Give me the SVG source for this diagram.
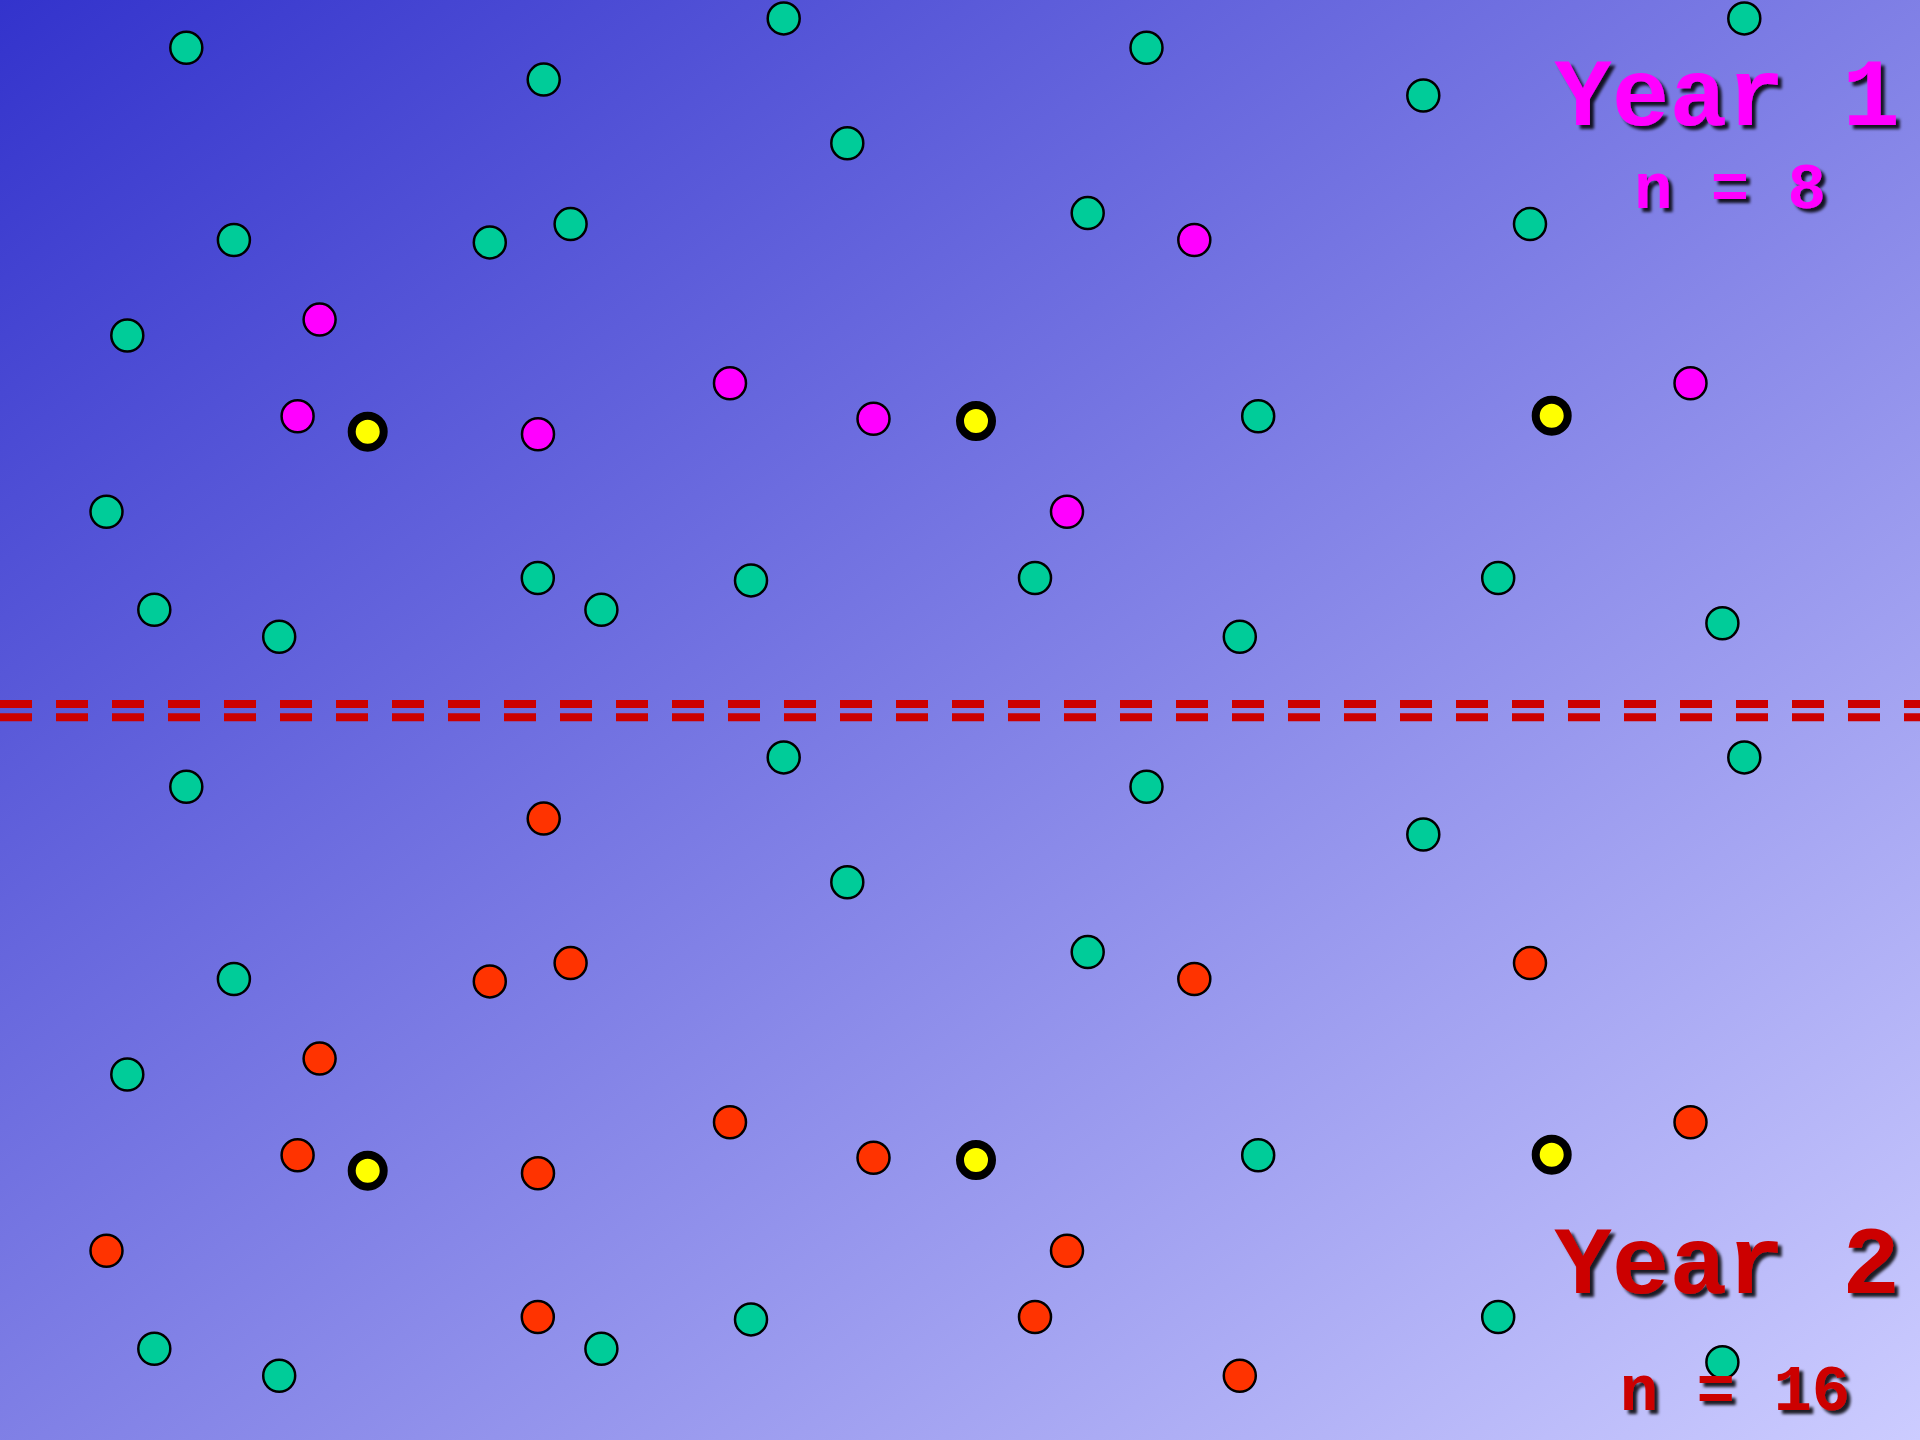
<svg xmlns="http://www.w3.org/2000/svg" width="1920" height="1440" viewBox="0 0 1920 1440">
<defs>
<linearGradient id="bg" x1="0" y1="0" x2="1" y2="1">
<stop offset="0" stop-color="#3333cc"/>
<stop offset="1" stop-color="#ccccff"/>
</linearGradient>
<filter id="sh" x="-10%" y="-10%" width="130%" height="140%">
<feDropShadow dx="4" dy="4" stdDeviation="1.5" flood-color="#000" flood-opacity="0.85"/>
</filter>
</defs>
<style>
circle{stroke:#000;stroke-width:2.5}
.g{fill:#00cc99}
.m{fill:#ff00ff}
.r{fill:#ff3300}
.y{fill:#ffff00;stroke-width:8}
.t{font-family:"Liberation Mono","Courier New",monospace;font-weight:bold;text-anchor:middle;filter:url(#sh)}
.dash{stroke:#cc0000;stroke-width:8;stroke-dasharray:32 24;fill:none}
</style>
<rect width="1920" height="1440" fill="url(#bg)"/>
<g id="divider">
<line class="dash" x1="0" y1="704" x2="1920" y2="704"/>
<line class="dash" x1="0" y1="717.3" x2="1920" y2="717.3"/>
</g>
<g id="year1">
<circle class="g" cx="186.3" cy="47.8" r="16"/>
<circle class="g" cx="543.7" cy="79.6" r="16"/>
<circle class="g" cx="783.7" cy="18.4" r="16"/>
<circle class="g" cx="847.3" cy="143.3" r="16"/>
<circle class="g" cx="1146.5" cy="47.8" r="16"/>
<circle class="g" cx="1423.3" cy="95.5" r="16"/>
<circle class="g" cx="1744.3" cy="18.4" r="16"/>
<circle class="g" cx="233.9" cy="240" r="16"/>
<circle class="g" cx="489.8" cy="242.4" r="16"/>
<circle class="g" cx="570.6" cy="224.1" r="16"/>
<circle class="g" cx="1087.7" cy="213.1" r="16"/>
<circle class="m" cx="1194.3" cy="240" r="16"/>
<circle class="g" cx="1530" cy="224.1" r="16"/>
<circle class="g" cx="127.3" cy="335.5" r="16"/>
<circle class="m" cx="319.6" cy="319.6" r="16"/>
<circle class="m" cx="297.6" cy="416.3" r="16"/>
<circle class="y" cx="367.7" cy="431.7" r="16"/>
<circle class="m" cx="538" cy="434.2" r="16"/>
<circle class="m" cx="730" cy="383.3" r="16"/>
<circle class="m" cx="873.5" cy="418.8" r="16"/>
<circle class="y" cx="976" cy="421" r="16"/>
<circle class="g" cx="1258.2" cy="416.3" r="16"/>
<circle class="y" cx="1551.7" cy="415.7" r="16"/>
<circle class="m" cx="1690.5" cy="383.3" r="16"/>
<circle class="g" cx="106.5" cy="511.8" r="16"/>
<circle class="m" cx="1067" cy="511.8" r="16"/>
<circle class="g" cx="154.3" cy="609.8" r="16"/>
<circle class="g" cx="279.2" cy="636.7" r="16"/>
<circle class="g" cx="537.8" cy="578" r="16"/>
<circle class="g" cx="601.4" cy="609.8" r="16"/>
<circle class="g" cx="751" cy="580.4" r="16"/>
<circle class="g" cx="1035" cy="578" r="16"/>
<circle class="g" cx="1239.8" cy="636.7" r="16"/>
<circle class="g" cx="1498.2" cy="578" r="16"/>
<circle class="g" cx="1722.4" cy="623.3" r="16"/>
<text class="t" x="1727" y="125" font-size="96" fill="#ff00ff">Year 1</text>
<text class="t" x="1730" y="208" font-size="64" fill="#ff00ff">n = 8</text>
</g>
<g id="year2" transform="translate(0,739)">
<circle class="g" cx="186.3" cy="47.8" r="16"/>
<circle class="r" cx="543.7" cy="79.6" r="16"/>
<circle class="g" cx="783.7" cy="18.4" r="16"/>
<circle class="g" cx="847.3" cy="143.3" r="16"/>
<circle class="g" cx="1146.5" cy="47.8" r="16"/>
<circle class="g" cx="1423.3" cy="95.5" r="16"/>
<circle class="g" cx="1744.3" cy="18.4" r="16"/>
<circle class="g" cx="233.9" cy="240" r="16"/>
<circle class="r" cx="489.8" cy="242.4" r="16"/>
<circle class="r" cx="570.6" cy="224.1" r="16"/>
<circle class="g" cx="1087.7" cy="213.1" r="16"/>
<circle class="r" cx="1194.3" cy="240" r="16"/>
<circle class="r" cx="1530" cy="224.1" r="16"/>
<circle class="g" cx="127.3" cy="335.5" r="16"/>
<circle class="r" cx="319.6" cy="319.6" r="16"/>
<circle class="r" cx="297.6" cy="416.3" r="16"/>
<circle class="y" cx="367.7" cy="431.7" r="16"/>
<circle class="r" cx="538" cy="434.2" r="16"/>
<circle class="r" cx="730" cy="383.3" r="16"/>
<circle class="r" cx="873.5" cy="418.8" r="16"/>
<circle class="y" cx="976" cy="421" r="16"/>
<circle class="g" cx="1258.2" cy="416.3" r="16"/>
<circle class="y" cx="1551.7" cy="415.7" r="16"/>
<circle class="r" cx="1690.5" cy="383.3" r="16"/>
<circle class="r" cx="106.5" cy="511.8" r="16"/>
<circle class="r" cx="1067" cy="511.8" r="16"/>
<circle class="g" cx="154.3" cy="609.8" r="16"/>
<circle class="g" cx="279.2" cy="636.7" r="16"/>
<circle class="r" cx="537.8" cy="578" r="16"/>
<circle class="g" cx="601.4" cy="609.8" r="16"/>
<circle class="g" cx="751" cy="580.4" r="16"/>
<circle class="r" cx="1035" cy="578" r="16"/>
<circle class="r" cx="1239.8" cy="636.7" r="16"/>
<circle class="g" cx="1498.2" cy="578" r="16"/>
<circle class="g" cx="1722.4" cy="623.3" r="16"/>
</g>
<g id="year2-labels">
<text class="t" x="1727" y="1293" font-size="96" fill="#cc0000">Year 2</text>
<text class="t" x="1735" y="1410" font-size="64" fill="#cc0000">n = 16</text>
</g>
</svg>
